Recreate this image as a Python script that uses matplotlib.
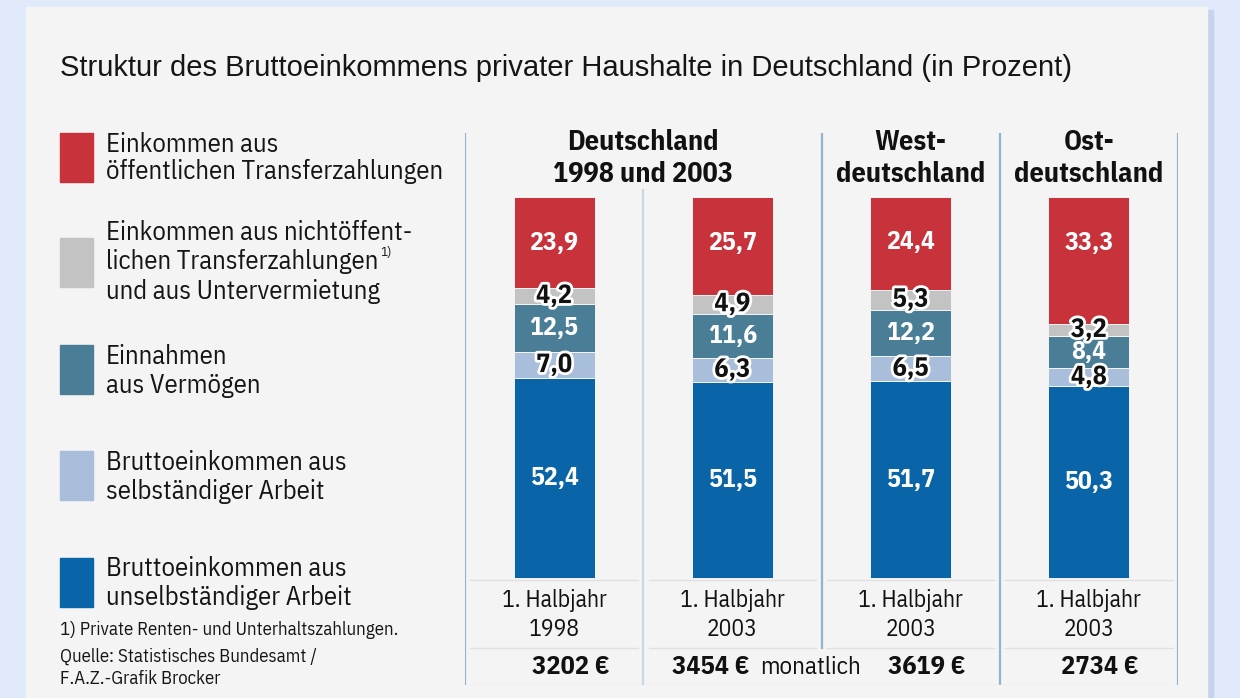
import matplotlib
matplotlib.use("Agg")
import matplotlib.pyplot as plt
import matplotlib.patheffects as pe
from matplotlib.patches import Rectangle

# ---------------- data ----------------
columns = ["1998", "2003", "West", "Ost"]
period_top = ["1. Halbjahr", "1. Halbjahr", "1. Halbjahr", "1. Halbjahr"]
period_year = ["1998", "2003", "2003", "2003"]
incomes = ["3202 €", "3454 €", "3619 €", "2734 €"]
headers = [("Deutschland", "1998 und 2003"), ("West-", "deutschland"), ("Ost-", "deutschland")]

# stacked from bottom to top
unselbst = [52.4, 51.5, 51.7, 50.3]
selbst = [7.0, 6.3, 6.5, 4.8]
vermoegen = [12.5, 11.6, 12.2, 8.4]
nichtoeff = [4.2, 4.9, 5.3, 3.2]
oeff = [23.9, 25.7, 24.4, 33.3]

series = [unselbst, selbst, vermoegen, nichtoeff, oeff]
colors = ["#0a64a8", "#a9bedb", "#4a7e97", "#c3c3c3", "#c8323a"]
label_white = [True, False, True, False, True]

legend_labels = [
    (["Einkommen aus", "öffentlichen Transferzahlungen"], "#c8323a"),
    (["Einkommen aus nichtöffent-", "lichen Transferzahlungen", "und aus Untervermietung"], "#c3c3c3"),
    (["Einnahmen", "aus Vermögen"], "#4a7e97"),
    (["Bruttoeinkommen aus", "selbständiger Arbeit"], "#a9bedb"),
    (["Bruttoeinkommen aus", "unselbständiger Arbeit"], "#0a64a8"),
]

title = "Struktur des Bruttoeinkommens privater Haushalte in Deutschland (in Prozent)"
NARROW = ["IBM Plex Sans Condensed", "DejaVu Sans"]
REG = ["Liberation Sans", "DejaVu Sans"]
TXT = "#151515"

W, H = 1240, 698
fig = plt.figure(figsize=(W / 100, H / 100), dpi=100)
fig.patch.set_facecolor("#e1eafb")

# card / free layer in pixel coords
bg = fig.add_axes([0, 0, 1, 1])
bg.set_xlim(0, W)
bg.set_ylim(H, 0)
bg.axis("off")
bg.add_patch(Rectangle((1206, 10), 7, 700, color="#c7d3ea", zorder=0))
bg.add_patch(Rectangle((26, 7), 1181, 700, color="#f4f4f4", zorder=1))

bg.text(60, 68, title, fontsize=21, family=REG, color=TXT, va="center", ha="left", zorder=3)

# legend
leg_y = [133, 238, 345, 451, 558]
line_y = [[145, 172], [233, 262, 292], [357, 385], [462, 491], [568, 597]]
renderer = fig.canvas.get_renderer()
sup_anchor = None
for (lines, col), y0, ys in zip(legend_labels, leg_y, line_y):
    bg.add_patch(Rectangle((60, y0), 33, 49, color=col, zorder=3))
    for ln, ty in zip(lines, ys):
        t = bg.text(106, ty, ln, fontsize=19.2, family=NARROW, color=TXT,
                    va="center", ha="left", zorder=3)
        if ln == "lichen Transferzahlungen":
            sup_anchor = (t, ty)
if sup_anchor is not None:
    t, ty = sup_anchor
    ext = t.get_window_extent(renderer=renderer)
    bg.text(ext.x1 + 2, ty - 9, "1)", fontsize=9.5, family=NARROW, color=TXT,
            va="center", ha="left", zorder=3)

bg.text(60, 630, "1) Private Renten- und Unterhaltszahlungen.", fontsize=13.5,
        family=NARROW, color=TXT, va="center", zorder=3)
bg.text(60, 657, "Quelle: Statistisches Bundesamt /", fontsize=13.5,
        family=NARROW, color=TXT, va="center", zorder=3)
bg.text(60, 679, "F.A.Z.-Grafik Brocker", fontsize=13.5,
        family=NARROW, color=TXT, va="center", zorder=3)

# chart axes: x pixels 465..1178, y pixels 133..685 ; 100% = 381 px (197..578)
px_per = 381 / 100.0
def py2d(py):
    return (578 - py) / px_per

y_top = py2d(133)
y_bot = py2d(685)
ax = fig.add_axes([465 / W, 1 - 685 / H, (1178 - 465) / W, (685 - 133) / H])
ax.set_xlim(-0.5, 3.5)
ax.set_ylim(y_bot, y_top)
ax.axis("off")
ax.patch.set_alpha(0)

x = list(range(len(columns)))
bottoms = [0.0] * len(columns)
outline = [pe.withStroke(linewidth=4, foreground="white")]
for s_i, (vals, col) in enumerate(zip(series, colors)):
    ax.bar(x, vals, bottom=bottoms, width=0.455, color=col, edgecolor="#f4f4f4",
           linewidth=0.7, zorder=2)
    for i, v in enumerate(vals):
        yc = bottoms[i] + v / 2
        if s_i == 4:
            yc = bottoms[i] + v - 12.0
        lbl = f"{v:.1f}".replace(".", ",")
        if label_white[s_i]:
            ax.text(i, yc, lbl, color="white", fontsize=18.5, fontweight="bold",
                    family=NARROW, ha="center", va="center", zorder=4)
        else:
            ax.text(i, yc, lbl, color="#111111", fontsize=19, fontweight="bold",
                    family=NARROW, ha="center", va="center", zorder=4, path_effects=outline)
        bottoms[i] += v

# separators
y_row1 = py2d(648)
sep = "#93b2cd"
ax.plot([-0.5, -0.5], [y_bot, y_top], color=sep, lw=1.6, zorder=1)
ax.plot([0.5, 0.5], [y_bot, py2d(190)], color="#c9d7e9", lw=1.6, zorder=1)
ax.plot([1.5, 1.5], [y_row1, y_top], color=sep, lw=1.6, zorder=1)
ax.plot([2.5, 2.5], [y_bot, y_top], color=sep, lw=1.6, zorder=1)
ax.plot([3.5, 3.5], [y_bot, y_top], color=sep, lw=1.6, zorder=1)
for yy in [py2d(580), y_row1]:
    for i in x:
        ax.plot([i - 0.47, i + 0.47], [yy, yy], color="#e0e0e0", lw=1.0, zorder=1)
ax.plot([-0.47, 3.47], [y_bot, y_bot], color="#e0e0e0", lw=1.0, zorder=1)

# headers
hx = [0.5, 2.0, 3.0]
for (l1, l2), xx in zip(headers, hx):
    ax.text(xx, py2d(143), l1, fontsize=20.3, fontweight="bold", family=NARROW,
            ha="center", va="center", color="#111111")
    ax.text(xx, py2d(174), l2, fontsize=20.3, fontweight="bold", family=NARROW,
            ha="center", va="center", color="#111111")

# bottom rows
for i in x:
    ax.text(i, py2d(601), period_top[i], fontsize=17, family=NARROW,
            ha="center", va="center", color="#111111")
    ax.text(i, py2d(629), period_year[i], fontsize=17, family=NARROW,
            ha="center", va="center", color="#111111")
inc_x = [0.095, 0.88, 2.09, 3.06]
for i in x:
    ax.text(inc_x[i], py2d(667), incomes[i], fontsize=19, fontweight="bold", family=NARROW,
            ha="center", va="center", color="#111111")
ax.text(1.44, py2d(667), "monatlich", fontsize=18, family=NARROW, ha="center", va="center",
        color="#111111")

fig.savefig("out.png", dpi=100, facecolor=fig.get_facecolor())
